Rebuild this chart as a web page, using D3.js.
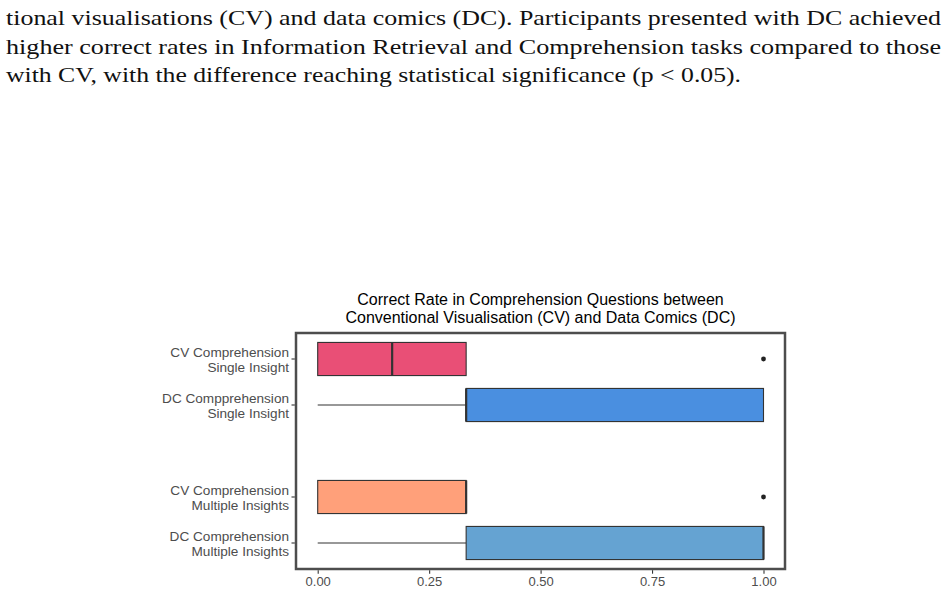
<!DOCTYPE html>
<html>
<head>
<meta charset="utf-8">
<script src="https://cdn.jsdelivr.net/npm/d3@7"></script>
<style>
  body { margin: 0; background: #fff; }
</style>
</head>
<body>
<div id="chart"></div>
<script>
// caption lines above the figure
var captionLines = [
	'tional visualisations (CV) and data comics (DC). Participants presented with DC achieved',
	'higher correct rates in Information Retrieval and Comprehension tasks compared to those',
	'with CV, with the difference reaching statistical significance (p < 0.05).'
];

var titleLines = [
	'Correct Rate in Comprehension Questions between',
	'Conventional Visualisation (CV) and Data Comics (DC)'
];

// one empty slot between the two groups
var categories = ['cvSingle', 'dcSingle', 'gap', 'cvMultiple', 'dcMultiple'];
var categoryLabels = [
	['CV Comprehension', 'Single Insight'],
	['DC Compprehension', 'Single Insight'],
	null,
	['CV Comprehension', 'Multiple Insights'],
	['DC Comprehension', 'Multiple Insights']
];
var boxColors = ['#e94f76', '#4a8fe0', null, '#ffa07a', '#65a3d2'];

var whiskerLow = [0, 0, null, 0, 0];
var q1 = [0, 0.333, null, 0, 0.333];
var median = [0.167, 0.333, null, 0.333, 1];
var q3 = [0.333, 1, null, 0.333, 1];
var whiskerHigh = [0.333, 1, null, 0.333, 1];
var outliers = [[1], [], null, [1], []];

var xTicks = [0, 0.25, 0.5, 0.75, 1];

var width = 947, height = 594;
var panel = {left: 296, right: 785, top: 333, bottom: 569};

var svg = d3.select('#chart').append('svg')
	.attr('width', width)
	.attr('height', height);

// caption, justified like the paper body
var capFont = '"Liberation Serif", "DejaVu Serif", serif';
var capWidths = [935, 935, 735];
captionLines.forEach(function(t, i){
	svg.append('text')
		.attr('x', 6)
		.attr('y', 25 + i * 28.7)
		.attr('font-family', capFont)
		.attr('font-size', 21.5)
		.attr('fill', '#111')
		.attr('textLength', capWidths[i])
		.attr('lengthAdjust', 'spacingAndGlyphs')
		.text(t);
});

// title
var sans = '"Liberation Sans", Arial, Helvetica, sans-serif';
titleLines.forEach(function(t, i){
	svg.append('text')
		.attr('x', (panel.left + panel.right) / 2)
		.attr('y', 304.5 + i * 18)
		.attr('text-anchor', 'middle')
		.attr('font-family', sans)
		.attr('font-size', 16)
		.attr('fill', '#000')
		.text(t);
});

var x = d3.scaleLinear()
	.domain([0, 1])
	.range([317.7, 763.5]);

var y = d3.scaleBand()
	.domain(categories)
	.range([336, 566])
	.paddingInner(0.28)
	.paddingOuter(0.14);

var g = svg.append('g');

var rows = categories.map(function(c, i){
	return {
		key: c, label: categoryLabels[i], color: boxColors[i],
		lo: whiskerLow[i], q1: q1[i], med: median[i], q3: q3[i], hi: whiskerHigh[i],
		out: outliers[i]
	};
}).filter(function(d){ return d.label; });

var row = g.selectAll('g.row')
	.data(rows)
	.enter().append('g')
	.attr('class', 'row')
	.attr('transform', function(d){ return 'translate(0,' + y(d.key) + ')'; });

var bw = y.bandwidth();

// whiskers
row.append('line')
	.attr('x1', function(d){ return x(d.lo); })
	.attr('x2', function(d){ return x(d.q1); })
	.attr('y1', bw / 2).attr('y2', bw / 2)
	.attr('stroke', '#333').attr('stroke-width', 1.1);
row.append('line')
	.attr('x1', function(d){ return x(d.q3); })
	.attr('x2', function(d){ return x(d.hi); })
	.attr('y1', bw / 2).attr('y2', bw / 2)
	.attr('stroke', '#333').attr('stroke-width', 1.1);

// boxes
row.append('rect')
	.attr('x', function(d){ return x(d.q1); })
	.attr('width', function(d){ return x(d.q3) - x(d.q1); })
	.attr('y', 0)
	.attr('height', bw)
	.attr('fill', function(d){ return d.color; })
	.attr('stroke', '#333')
	.attr('stroke-width', 1.1);

// medians
row.append('line')
	.attr('x1', function(d){ return x(d.med); })
	.attr('x2', function(d){ return x(d.med); })
	.attr('y1', 0).attr('y2', bw)
	.attr('stroke', '#333')
	.attr('stroke-width', 2.2);

// outliers
row.selectAll('circle')
	.data(function(d){ return d.out; })
	.enter().append('circle')
	.attr('cx', function(v){ return x(v); })
	.attr('cy', bw / 2)
	.attr('r', 2.4)
	.attr('fill', '#222');

// panel border
svg.append('rect')
	.attr('x', panel.left)
	.attr('y', panel.top)
	.attr('width', panel.right - panel.left)
	.attr('height', panel.bottom - panel.top)
	.attr('fill', 'none')
	.attr('stroke', '#4d4d4d')
	.attr('stroke-width', 2.5);

// x axis
var xAxis = svg.append('g')
	.attr('transform', 'translate(0,' + (panel.bottom + 1.2) + ')')
	.call(d3.axisBottom(x).tickValues(xTicks).tickFormat(d3.format('.2f')).tickSizeOuter(0).tickSize(3.5).tickPadding(3));
xAxis.select('.domain').remove();
xAxis.selectAll('.tick line').attr('stroke', '#333').attr('stroke-width', 1.1);
xAxis.selectAll('.tick text')
	.attr('font-family', sans)
	.attr('font-size', 13)
	.attr('fill', '#4d4d4d');

// y labels
var yl = svg.append('g');
rows.forEach(function(d){
	var cy = y(d.key) + bw / 2;
	yl.append('line')
		.attr('x1', panel.left - 4.5).attr('x2', panel.left - 1.2)
		.attr('y1', cy).attr('y2', cy)
		.attr('stroke', '#333').attr('stroke-width', 1.1);
	var t = yl.append('text')
		.attr('text-anchor', 'end')
		.attr('font-family', sans)
		.attr('font-size', 13.6)
		.attr('fill', '#4d4d4d');
	d.label.forEach(function(s, j){
		t.append('tspan')
			.attr('x', 289)
			.attr('y', cy - 2 + j * 14.5)
			.text(s);
	});
});
</script>
</body>
</html>
